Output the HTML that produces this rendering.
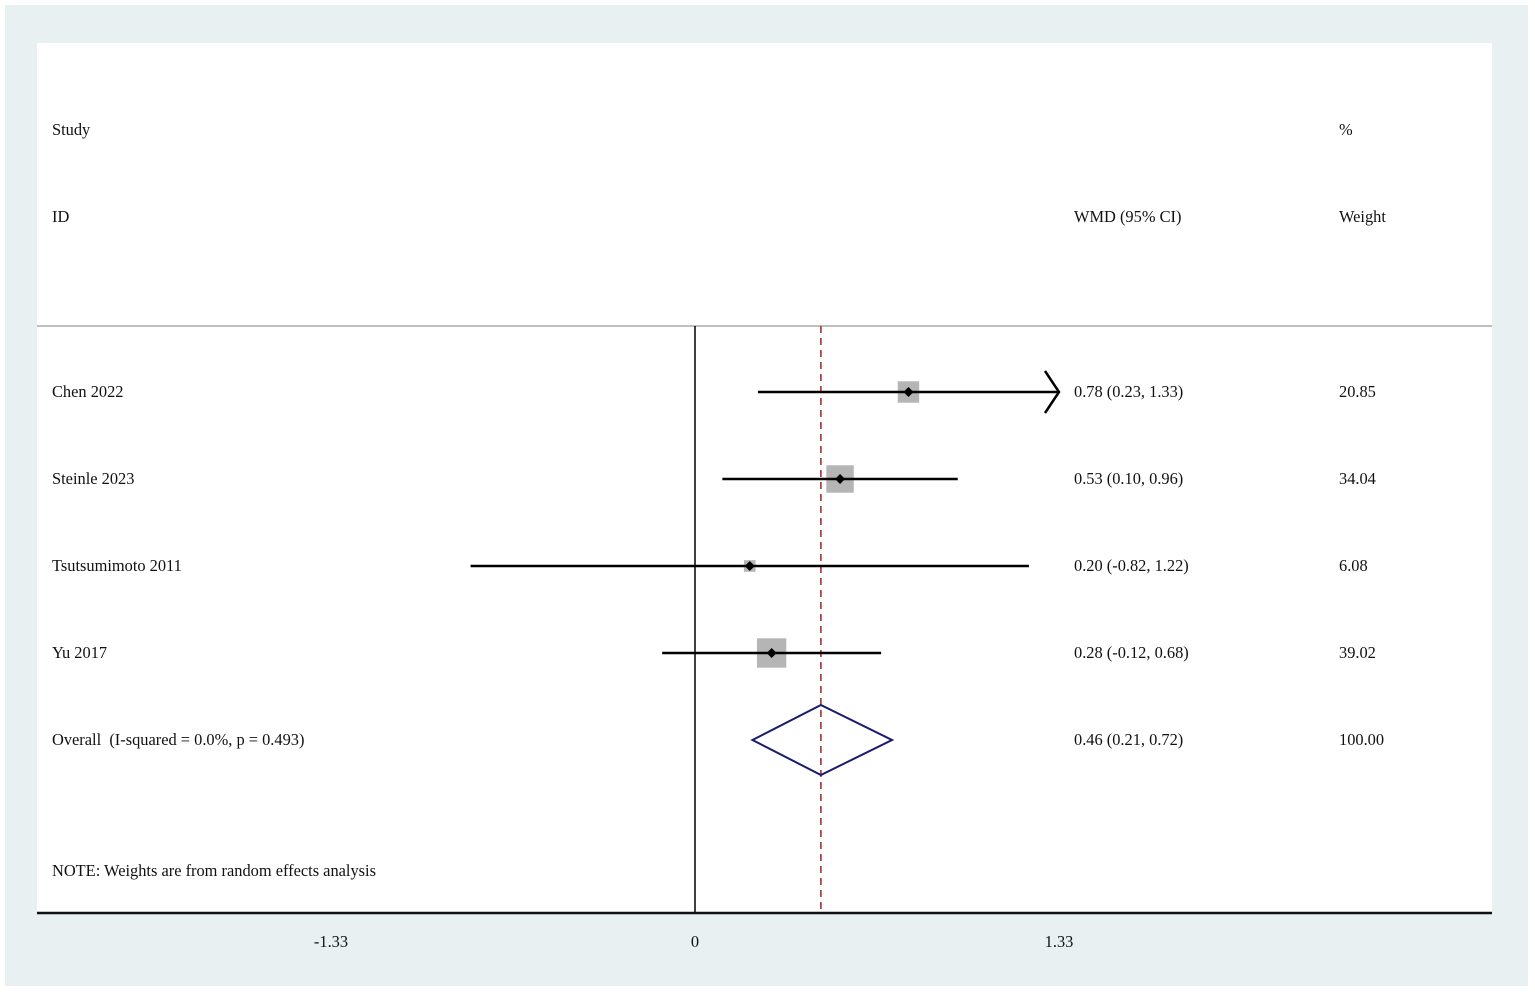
<!DOCTYPE html>
<html><head><meta charset="utf-8"><style>
html,body{margin:0;padding:0;background:#fff;}
svg{display:block;}
text{font-family:"Liberation Serif",serif;font-size:16.4px;fill:#111;white-space:pre;}
</style></head><body>
<svg id="chart" width="1535" height="992" viewBox="0 0 1535 992">
<rect x="5" y="5" width="1523" height="981" fill="#e8f0f2"/>
<rect x="37" y="43" width="1455" height="870" fill="#ffffff"/>
<text x="52" y="135">Study</text>
<text x="52" y="222">ID</text>
<text x="1074" y="222">WMD (95% CI)</text>
<text x="1339" y="135">%</text>
<text x="1339" y="222">Weight</text>
<line x1="37" y1="326" x2="1492" y2="326" stroke="#aaa" stroke-width="1.5"/>
<text x="52" y="876">NOTE: Weights are from random effects analysis</text>
<g id="marks"></g>
</svg>
<script>
const studies = ["Chen 2022","Steinle 2023","Tsutsumimoto 2011","Yu 2017"];
const est = [0.78,0.53,0.20,0.28];
const lower = [0.23,0.10,-0.82,-0.12];
const upper = [1.33,0.96,1.22,0.68];
const weights = [20.85,34.04,6.08,39.02];
const ciLabels = ["0.78 (0.23, 1.33)","0.53 (0.10, 0.96)","0.20 (-0.82, 1.22)","0.28 (-0.12, 0.68)"];
const weightLabels = ["20.85","34.04","6.08","39.02"];
const overall = [0.46,0.21,0.72];
const overallLabel = "Overall  (I-squared = 0.0%, p = 0.493)";
const overallCi = "0.46 (0.21, 0.72)";
const overallWeight = "100.00";
const ticks = [-1.33,0,1.33];
const tickLabels = ["-1.33","0","1.33"];
const clipMax = 1.33;

const NS="http://www.w3.org/2000/svg";
const g=document.getElementById('marks');
const x=v=>695+v*(364/1.33);
const rowY=i=>392+i*87;
function mk(t,a){const e=document.createElementNS(NS,t);for(const k in a)e.setAttribute(k,a[k]);g.appendChild(e);return e;}
let e=mk('line',{x1:x(0),y1:326,x2:x(0),y2:913,stroke:'#000','stroke-width':1.5});


e=mk('line',{x1:x(overall[0]),y1:326,x2:x(overall[0]),y2:913,stroke:'#a0202a','stroke-width':1.5,'stroke-dasharray':'7,5'});


e=mk('line',{x1:37,y1:913,x2:1492,y2:913,stroke:'#111','stroke-width':2.5});


ticks.forEach((t,i)=>{
  const tl=mk('text',{x:x(t),y:947,'text-anchor':'middle'});tl.textContent=tickLabels[i];
  
  
});
studies.forEach((s,i)=>{
  const y=rowY(i);
  let t=mk('text',{x:52,y:y+5});t.textContent=s;
  
  
  const side=4.7*Math.sqrt(weights[i]);
  let r=mk('rect',{x:x(est[i])-side/2,y:y-side/2,width:side,height:side,fill:'#b5b5b5'});
  
  
  const hi=Math.min(upper[i],clipMax);
  let l=mk('line',{x1:x(lower[i]),y1:y,x2:x(hi),y2:y,stroke:'#000','stroke-width':2.5});
  
  
  if(upper[i]>=clipMax){
    let a=mk('polyline',{points:`${x(hi)-14},${y-21} ${x(hi)},${y} ${x(hi)-14},${y+21}`,fill:'none',stroke:'#000','stroke-width':2.5});
    
    
  }
  const cx=x(est[i]);
  let d=mk('polygon',{points:`${cx-5},${y} ${cx},${y-5} ${cx+5},${y} ${cx},${y+5}`,fill:'#000'});
  
  
  t=mk('text',{x:1074,y:y+5});t.textContent=ciLabels[i];
  
  
  t=mk('text',{x:1339,y:y+5});t.textContent=weightLabels[i];
  
  
});
const oy=rowY(4);
let t=mk('text',{x:52,y:oy+5});t.textContent=overallLabel;


let dm=mk('polygon',{points:`${x(overall[1])},${oy} ${x(overall[0])},${oy-35} ${x(overall[2])},${oy} ${x(overall[0])},${oy+35}`,fill:'none',stroke:'#1a1a6e','stroke-width':2});


t=mk('text',{x:1074,y:oy+5});t.textContent=overallCi;


t=mk('text',{x:1339,y:oy+5});t.textContent=overallWeight;


</script>
</body></html>
